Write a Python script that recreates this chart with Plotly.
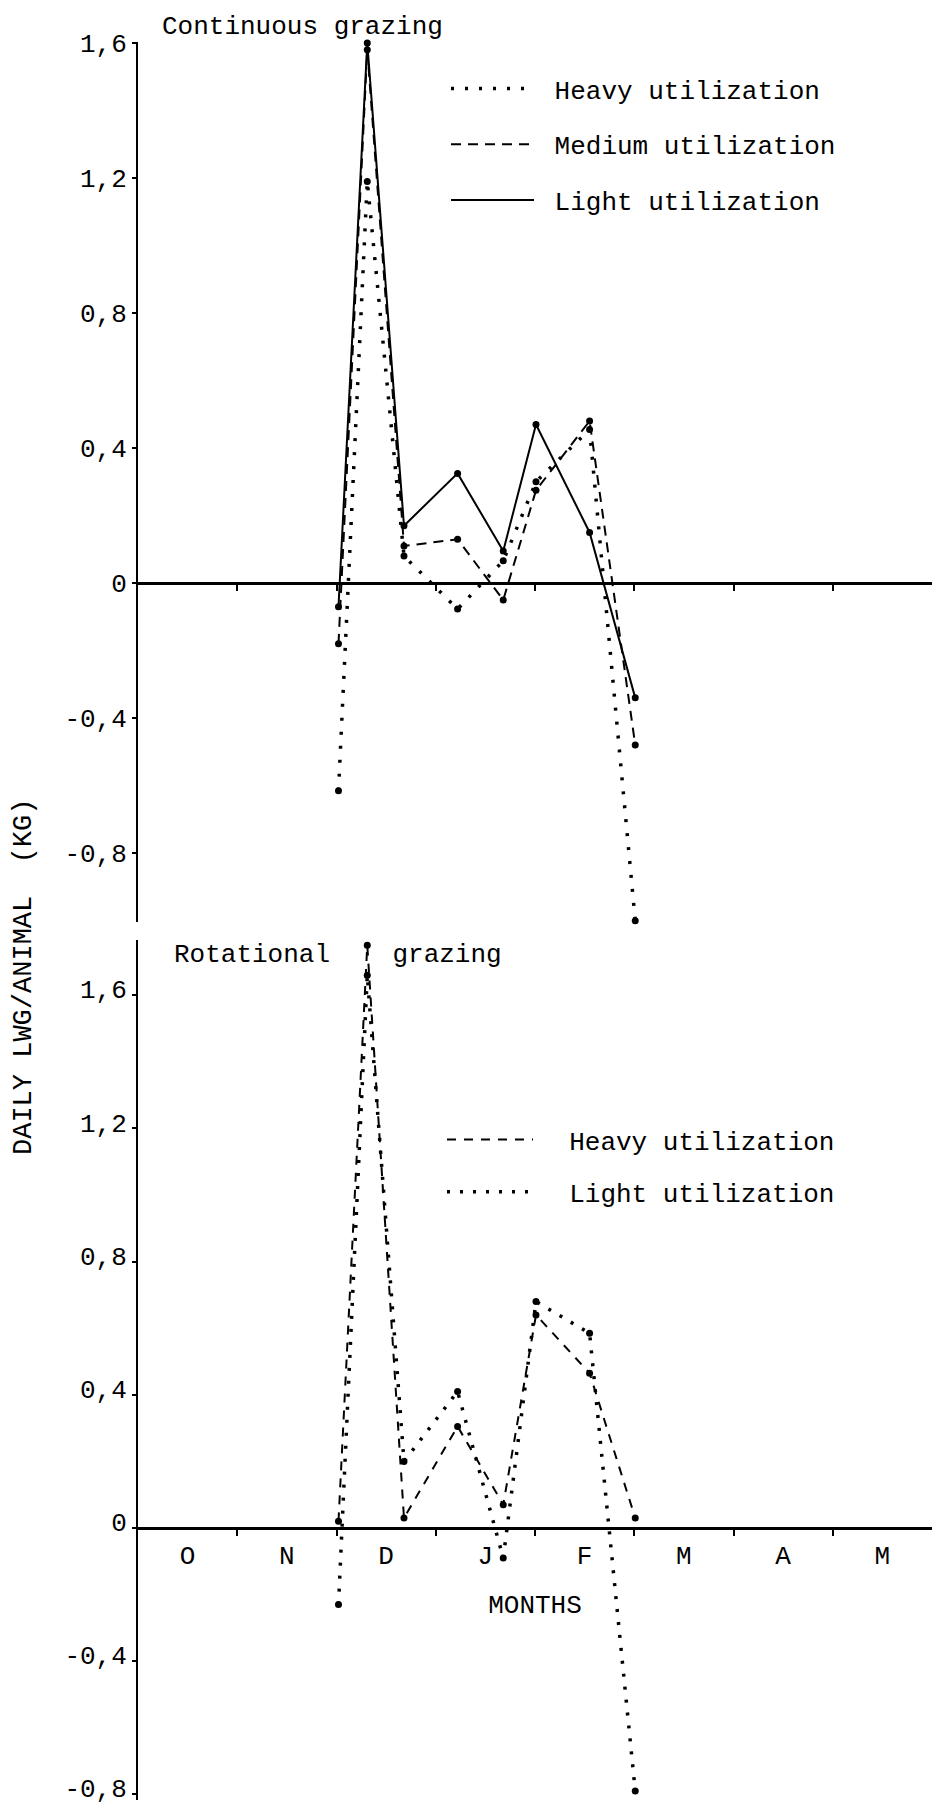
import plotly.graph_objects as go

# ---------------- data ----------------
months = ["O", "N", "D", "J", "F", "M", "A", "M"]
# sampling dates, expressed in months since 1 October
sample_dates = [2.02, 2.31, 2.68, 3.22, 3.68, 4.01, 4.55, 5.01]

cont_names = ["Heavy utilization", "Medium utilization", "Light utilization"]
cont_heavy = [-0.615, 1.19, 0.08, -0.077, 0.066, 0.30, 0.455, -1.0]
cont_medium = [-0.18, 1.58, 0.11, 0.13, -0.05, 0.275, 0.48, -0.48]
cont_light = [-0.07, 1.60, 0.17, 0.325, 0.095, 0.47, 0.15, -0.34]

rot_names = ["Heavy utilization", "Light utilization"]
rot_heavy = [0.02, 1.75, 0.03, 0.305, 0.07, 0.64, 0.465, 0.03]
rot_light = [-0.23, 1.66, 0.20, 0.41, -0.09, 0.68, 0.585, -0.79]

ytick_vals = [1.6, 1.2, 0.8, 0.4, 0, -0.4, -0.8]
ytick_text = ["1,6", "1,2", "0,8", "0,4", "0", "-0,4", "-0,8"]

panel_titles = ["Continuous grazing", "Rotational\u00a0\u00a0\u00a0\u00a0grazing"]
y_title = "DAILY LWG/ANIMAL\u00a0\u00a0(KG)"
x_title = "MONTHS"

# ---------------- styling ----------------
W, H = 932, 1805
FONT = "Liberation Mono"
X0 = 138 / W

def py(px):
    return 1 - px / H

DOT_TOP = dict(color="black", width=3.5, dash="3px,11px")
DASH_TOP = dict(color="black", width=2, dash="10px,7px")
SOLID = dict(color="black", width=2)
DASH_BOT = dict(color="black", width=2, dash="9px,8px")
DOT_BOT = dict(color="black", width=3.5, dash="3px,10px")
MARKER = dict(color="black", size=7)

fig = go.Figure()

top_series = [(cont_names[0], cont_heavy, DOT_TOP),
              (cont_names[1], cont_medium, DASH_TOP),
              (cont_names[2], cont_light, SOLID)]
bot_series = [(rot_names[0], rot_heavy, DASH_BOT),
              (rot_names[1], rot_light, DOT_BOT)]

for name, vals, line in top_series:
    fig.add_trace(go.Scatter(x=sample_dates, y=vals, mode="lines+markers",
                             line=line, marker=MARKER, showlegend=False,
                             cliponaxis=False, xaxis="x", yaxis="y", name=name))
for name, vals, line in bot_series:
    fig.add_trace(go.Scatter(x=sample_dates, y=vals, mode="lines+markers",
                             line=line, marker=MARKER, showlegend=False,
                             cliponaxis=False, xaxis="x2", yaxis="y2", name=name))

# legend entries (line samples only)
for i, (name, vals, line) in enumerate(top_series):
    fig.add_trace(go.Scatter(x=[None], y=[None], mode="lines", line=line,
                             name="\u00a0" + name, legend="legend",
                             legendgroup="t%d" % i, xaxis="x", yaxis="y"))
for i, (name, vals, line) in enumerate(bot_series):
    fig.add_trace(go.Scatter(x=[None], y=[None], mode="lines", line=line,
                             name="\u00a0\u00a0" + name, legend="legend2",
                             legendgroup="b%d" % i, xaxis="x2", yaxis="y2"))

boundaries = list(range(1, len(months)))
centers = [i + 0.5 for i in range(len(months))]

xcommon = dict(domain=[X0, 1], range=[0, len(months)], anchor="free",
               showline=True, linecolor="black", linewidth=3,
               showgrid=False, zeroline=False, automargin=False)
ycommon = dict(showline=True, linecolor="black", linewidth=2, ticks="outside",
               ticklen=4, tickwidth=2, tickcolor="black",
               tickvals=ytick_vals, ticktext=ytick_text, automargin=False,
               ticklabeloverflow="allow",
               showgrid=False, zeroline=False, tickfont=dict(size=26))

fig.update_layout(
    width=W, height=H,
    margin=dict(l=0, r=0, t=0, b=0, autoexpand=False),
    paper_bgcolor="white", plot_bgcolor="white",
    font=dict(family=FONT, size=26, color="black"),
    xaxis=dict(xcommon, position=py(583), ticks="outside", tickvals=boundaries,
               ticklen=6, tickwidth=2, tickcolor="black", showticklabels=False),
    yaxis=dict(ycommon, domain=[py(922), py(42)], range=[-1.004, 1.603], anchor="x"),
    xaxis2=dict(xcommon, position=py(1528), ticks="", tickvals=centers,
                ticktext=months, ticklabelstandoff=3, tickfont=dict(size=26),
                minor=dict(tickmode="array", tickvals=boundaries, ticks="outside",
                           ticklen=6, tickwidth=2, tickcolor="black", showgrid=False),
                title=dict(text=x_title, standoff=23, font=dict(size=26))),
    yaxis2=dict(ycommon, domain=[py(1800), py(940)], range=[-0.817, 1.766],
                anchor="x2", ticklabelshift=-6),
    legend=dict(x=446 / W, y=py(65), xanchor="left", yanchor="top",
                itemwidth=83, tracegroupgap=19, bgcolor="rgba(0,0,0,0)",
                font=dict(size=26)),
    legend2=dict(x=442 / W, y=py(1116), xanchor="left", yanchor="top",
                 itemwidth=86, tracegroupgap=15.5, bgcolor="rgba(0,0,0,0)",
                 font=dict(size=26)),
    annotations=[
        dict(text=panel_titles[0], x=160 / W, y=py(27), xref="paper", yref="paper",
             xanchor="left", yanchor="middle", showarrow=False, font=dict(size=26)),
        dict(text=panel_titles[1], x=172 / W, y=py(955), xref="paper", yref="paper",
             xanchor="left", yanchor="middle", showarrow=False, font=dict(size=26)),
        dict(text=y_title, x=24 / W, y=py(977), xref="paper", yref="paper",
             xanchor="center", yanchor="middle", textangle=-90, showarrow=False,
             font=dict(size=27)),
    ],
)

fig.write_html("out.html", config={"displayModeBar": False},
               post_script="document.body.style.margin='0';document.body.style.padding='0';")
